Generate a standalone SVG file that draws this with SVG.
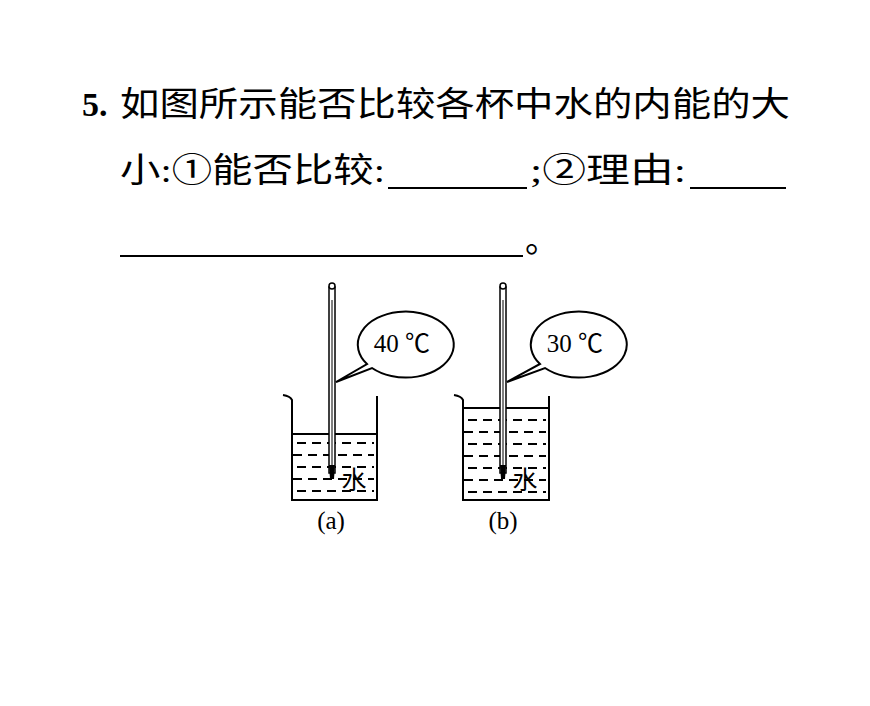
<svg xmlns="http://www.w3.org/2000/svg" width="870" height="706" viewBox="0 0 870 706">
<style>
.t{font-family:"Liberation Serif","Noto Sans CJK SC",serif;font-size:34px;fill:#000}
.s{font-family:"Liberation Serif","Noto Sans CJK SC",serif;font-size:25px;fill:#000}
.l{stroke:#000;stroke-width:2;fill:none}
.w{stroke:#000;stroke-width:2;stroke-dasharray:9 6}
</style>
<rect width="870" height="706" fill="#fff"/>
<g id="question">
<text class="t" x="82" y="116" font-weight="bold">5.</text>
<text class="t" x="120" y="116" textLength="670" lengthAdjust="spacingAndGlyphs">如图所示能否比较各杯中水的内能的大</text>
<text class="t" x="120" y="182" textLength="265" lengthAdjust="spacingAndGlyphs">小:①能否比较:</text>
<line class="l" x1="388" y1="188" x2="527" y2="188" stroke-width="1.5"/>
<text class="t" x="530" y="182" textLength="156" lengthAdjust="spacingAndGlyphs">;②理由:</text>
<line class="l" x1="690" y1="188" x2="786" y2="188" stroke-width="1.5"/>
<line class="l" x1="120" y1="256" x2="523" y2="256" stroke-width="1.5"/>
<text class="t" x="525" y="252">。</text>
</g>
<g id="beaker-a">
<rect x="292" y="434" width="85" height="66" fill="#fff"/>
<path class="l" d="M283,395 Q290,396 292,400 L292,500 L377,500 L377,396"/>
<line class="l" x1="292" y1="434" x2="377" y2="434"/>
<g class="w">
<line x1="297" y1="443" x2="374" y2="443"/><line x1="293" y1="455" x2="374" y2="455"/>
<line x1="297" y1="467" x2="374" y2="467"/><line x1="293" y1="479" x2="374" y2="479"/>
<line x1="297" y1="491" x2="374" y2="491"/>
</g>
</g>
<g id="beaker-b">
<rect x="463" y="408" width="86" height="92" fill="#fff"/>
<path class="l" d="M454,395 Q461,396 463,400 L463,500 L549,500 L549,396"/>
<line class="l" x1="463" y1="408" x2="549" y2="408"/>
<g class="w">
<line x1="468" y1="420" x2="546" y2="420"/><line x1="464" y1="432" x2="546" y2="432"/>
<line x1="468" y1="444" x2="546" y2="444"/><line x1="464" y1="456" x2="546" y2="456"/>
<line x1="468" y1="468" x2="546" y2="468"/><line x1="464" y1="480" x2="546" y2="480"/>
<line x1="468" y1="492" x2="546" y2="492"/>
</g>
</g>
<g id="thermo-a">
<rect x="329" y="287" width="6" height="186" fill="#fff" stroke="#000" stroke-width="1.5"/>
<circle cx="332" cy="286" r="3" fill="#fff" stroke="#000" stroke-width="1.5"/>
<path d="M329,465 L335,465 L334,479 L330,479 Z" fill="#000"/>
<line x1="332" y1="300" x2="332" y2="465" stroke="#000" stroke-width="1"/>
</g>
<g id="thermo-b">
<rect x="500" y="287" width="6" height="186" fill="#fff" stroke="#000" stroke-width="1.5"/>
<circle cx="503" cy="286" r="3" fill="#fff" stroke="#000" stroke-width="1.5"/>
<path d="M500,465 L506,465 L505,479 L501,479 Z" fill="#000"/>
<line x1="503" y1="300" x2="503" y2="465" stroke="#000" stroke-width="1"/>
</g>
<g id="bubble-a">
<path class="l" fill="#fff" d="M336,382 L367,364 A48,33 0 1 1 372,368 Z"/>
<text class="s" x="402" y="352" text-anchor="middle">40 ℃</text>
</g>
<g id="bubble-b">
<path class="l" fill="#fff" d="M507,382 L540,364 A48,33 0 1 1 545,368 Z"/>
<text class="s" x="575" y="352" text-anchor="middle">30 ℃</text>
</g>
<g id="labels">
<text class="s" x="354" y="489" text-anchor="middle">水</text>
<text class="s" x="525" y="489" text-anchor="middle">水</text>
<text class="s" x="331" y="529" text-anchor="middle">(a)</text>
<text class="s" x="503" y="529" text-anchor="middle">(b)</text>
</g>
</svg>
